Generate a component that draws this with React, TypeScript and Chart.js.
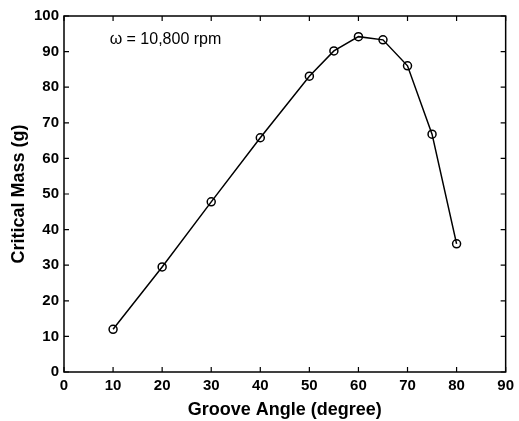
import React, { useEffect, useRef } from "react";
import { Chart, registerables } from "chart.js";

Chart.register(...registerables);

const grooveAngle = [10, 20, 30, 40, 50, 55, 60, 65, 70, 75, 80];
const criticalMass = [12, 29.5, 47.8, 65.8, 83.1, 90.2, 94.2, 93.3, 86.0, 66.8, 36.0];
const xTicks = [0, 10, 20, 30, 40, 50, 60, 70, 80, 90];
const yTicks = [0, 10, 20, 30, 40, 50, 60, 70, 80, 90, 100];
const annotationText = "\u03C9 = 10,800 rpm";
const annotationPos = { x: 9.3, y: 93.3 };

const FONT = "'Liberation Sans', Arial, sans-serif";

const boxPlugin = {
  id: "boxTicks",
  afterDraw(chart: any) {
    const { ctx, chartArea: a, scales } = chart;
    const xs = scales.x;
    const ys = scales.y;
    ctx.save();
    ctx.strokeStyle = "#000";
    ctx.lineWidth = 1.5;
    ctx.strokeRect(a.left, a.top, a.right - a.left, a.bottom - a.top);
    ctx.lineWidth = 1.2;
    const tl = 5;
    ctx.beginPath();
    for (const v of xTicks) {
      const px = xs.getPixelForValue(v);
      ctx.moveTo(px, a.bottom);
      ctx.lineTo(px, a.bottom - tl);
      ctx.moveTo(px, a.top);
      ctx.lineTo(px, a.top + tl);
    }
    for (const v of yTicks) {
      const py = ys.getPixelForValue(v);
      ctx.moveTo(a.left, py);
      ctx.lineTo(a.left + tl, py);
      ctx.moveTo(a.right, py);
      ctx.lineTo(a.right - tl, py);
    }
    ctx.stroke();
    ctx.fillStyle = "#000";
    ctx.font = `16px ${FONT}`;
    ctx.textBaseline = "middle";
    ctx.textAlign = "left";
    ctx.fillText(
      annotationText,
      xs.getPixelForValue(annotationPos.x),
      ys.getPixelForValue(annotationPos.y)
    );
    ctx.restore();
  },
};

export default function App() {
  const ref = useRef<HTMLCanvasElement | null>(null);
  useEffect(() => {
    document.body.style.margin = "0";
    const canvas = ref.current;
    if (!canvas) return;
    const chart = new Chart(canvas, {
      type: "line",
      data: {
        datasets: [
          {
            data: grooveAngle.map((x, i) => ({ x, y: criticalMass[i] })),
            borderColor: "#000",
            borderWidth: 1.5,
            pointRadius: 4,
            pointBorderWidth: 1.5,
            pointBackgroundColor: "rgba(255,255,255,0)",
            pointBorderColor: "#000",
            tension: 0,
            fill: false,
          },
        ],
      },
      options: {
        responsive: false,
        animation: false,
        layout: { padding: { top: 16, right: 7, left: 0, bottom: 0 } },
        plugins: { legend: { display: false }, tooltip: { enabled: false } },
        scales: {
          x: {
            type: "linear",
            min: 0,
            max: 90,
            grid: { display: false, drawTicks: false },
            border: { display: false },
            afterBuildTicks: (s: any) => {
              s.ticks = xTicks.map((v) => ({ value: v }));
            },
            afterFit: (s: any) => {
              s.height = 49;
            },
            ticks: {
              color: "#000",
              padding: 5,
              font: { family: FONT, size: 15, weight: "bold" },
            },
            title: {
              display: true,
              text: "Groove Angle (degree)",
              color: "#000",
              padding: { top: 0, bottom: 0 },
              font: { family: FONT, size: 18, weight: "bold" },
            },
          },
          y: {
            type: "linear",
            min: 0,
            max: 100,
            grid: { display: false, drawTicks: false },
            border: { display: false },
            afterBuildTicks: (s: any) => {
              s.ticks = yTicks.map((v) => ({ value: v }));
            },
            afterFit: (s: any) => {
              s.width = 64;
            },
            ticks: {
              color: "#000",
              padding: 5,
              font: { family: FONT, size: 15, weight: "bold" },
            },
            title: {
              display: true,
              text: "Critical Mass (g)",
              color: "#000",
              padding: { top: 8, bottom: 0 },
              font: { family: FONT, size: 18, weight: "bold" },
            },
          },
        },
      },
      plugins: [boxPlugin],
    } as any);
    return () => chart.destroy();
  }, []);
  return (
    <div style={{ width: 519, height: 421, background: "#fff" }}>
      <canvas ref={ref} width={519} height={421} />
    </div>
  );
}
